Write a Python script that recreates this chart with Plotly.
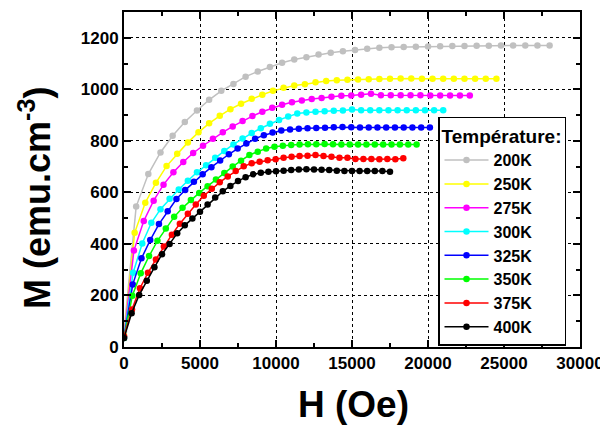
import plotly.graph_objects as go

# ---- data ----
temperatures = ["200K", "250K", "275K", "300K", "325K", "350K", "375K", "400K"]
colors = ["#c0c0c0", "#ffff00", "#ff00ff", "#00ffff", "#0000ff", "#00ff00", "#ff0000", "#000000"]
# field step (Oe) of each sweep; every sweep has 36 points starting at 0 Oe
field_step = [800, 700, 650, 600, 575, 550, 525, 500]

m_200K = [60, 545, 671, 755, 820, 873, 918, 959, 994, 1021, 1049, 1069, 1087, 1103, 1116, 1124,
          1135, 1142, 1148, 1153, 1157, 1161, 1163, 1164, 1165, 1166, 1167, 1168, 1168, 1169,
          1169, 1170, 1170, 1170, 1170, 1170]
m_250K = [45, 443, 560, 637, 702, 750, 794, 833, 868, 897, 923, 944, 963, 979, 994, 1006,
          1015, 1020, 1027, 1032, 1035, 1037, 1038, 1039, 1040, 1041, 1042, 1042, 1041, 1041,
          1041, 1041, 1041, 1041, 1041, 1041]
m_275K = [40, 374, 489, 568, 630, 678, 718, 753, 781, 808, 833, 856, 877, 896, 913, 928,
          940, 950, 957, 962, 966, 971, 975, 976, 979, 983, 977, 977, 977, 977,
          977, 976, 976, 976, 976, 976]
m_300K = [40, 288, 402, 482, 535, 575, 611, 645, 678, 705, 734, 761, 786, 809, 830, 849,
          866, 881, 894, 906, 910, 913, 915, 917, 918, 922, 919, 919, 919, 919,
          919, 919, 919, 919, 919, 919]
m_325K = [35, 243, 344, 415, 477, 527, 574, 609, 641, 670, 698, 724, 748, 770, 790, 808,
          822, 832, 840, 844, 847, 849, 850, 851, 853, 854, 853, 852, 852, 852,
          852, 852, 852, 852, 852, 852]
m_350K = [35, 199, 286, 353, 412, 460, 505, 540, 570, 598, 624, 650, 675, 700, 723, 745,
          758, 770, 777, 781, 784, 786, 787, 787, 788, 787, 786, 786, 786, 786,
          786, 786, 786, 786, 786, 786]
m_375K = [42, 146, 228, 288, 340, 390, 436, 478, 517, 553, 587, 614, 639, 662, 683, 701,
          713, 719, 725, 729, 734, 738, 741, 742, 745, 741, 738, 734, 734, 730,
          730, 730, 729, 730, 729, 732]
m_400K = [35, 131, 202, 257, 309, 360, 400, 441, 472, 499, 525, 553, 580, 604, 625, 644,
          659, 670, 676, 680, 682, 684, 687, 689, 690, 689, 688, 687, 684, 683,
          683, 683, 683, 683, 683, 680]

magnetization = [m_200K, m_250K, m_275K, m_300K, m_325K, m_350K, m_375K, m_400K]

x_ticks = [0, 5000, 10000, 15000, 20000, 25000, 30000]
y_ticks = [0, 200, 400, 600, 800, 1000, 1200]

FONT = "Liberation Sans, Arial, Helvetica, sans-serif"

fig = go.Figure()
for label, col, step, m in zip(temperatures, colors, field_step, magnetization):
    h = [step * i for i in range(len(m))]
    fig.add_trace(go.Scatter(
        x=h, y=m, mode="lines+markers", name=label,
        line=dict(color=col, width=1.5),
        marker=dict(color=col, size=6.5, symbol="circle"),
    ))

axis_common = dict(
    automargin=False,
    showline=True, linewidth=2, linecolor="black", mirror="allticks",
    ticks="inside", ticklen=7, tickwidth=1.5, tickcolor="black",
    showgrid=True, gridcolor="black", gridwidth=1, griddash="dot",
    zeroline=False,
    tickfont=dict(family=FONT, size=17, color="black", weight="bold"),
)

fig.update_xaxes(
    range=[0, 30000], tickmode="array", tickvals=x_ticks,
    ticktext=[str(v) for v in x_ticks],
    minor=dict(dtick=2500, tick0=0, ticks="inside", ticklen=4, tickwidth=1.5,
               tickcolor="black", showgrid=False),
    **axis_common,
)
fig.update_yaxes(
    range=[0, 1300], tickmode="array", tickvals=y_ticks,
    ticktext=[str(v) for v in y_ticks],
    minor=dict(dtick=100, tick0=0, ticks="inside", ticklen=4, tickwidth=1.5,
               tickcolor="black", showgrid=False),
    **axis_common,
)

# the page body has an 8px margin, so the figure is sized/positioned to compensate
fig.update_layout(
    template="none",
    width=600, height=420,
    margin=dict(l=116, r=28, t=4, b=81, autoexpand=False),
    paper_bgcolor="white", plot_bgcolor="white",
    font=dict(family=FONT, color="black"),
    showlegend=True,
    legend=dict(
        x=0.6886, y=0.6866, xanchor="left", yanchor="top",
        bgcolor="white", bordercolor="black", borderwidth=1.5,
        font=dict(family=FONT, size=16, color="black", weight="bold"),
        title=dict(text="Température:", font=dict(family=FONT, size=19, color="black", weight="bold")),
        tracegroupgap=0, itemwidth=44,
    ),
    annotations=[
        dict(text="H (Oe)", xref="paper", yref="paper", x=0.504, y=-0.173,
             xanchor="center", yanchor="middle", showarrow=False,
             font=dict(family=FONT, size=37, color="black", weight="bold")),
        dict(text="M (emu.cm<sup>-3</sup>)", xref="paper", yref="paper", x=-0.195, y=0.445,
             xanchor="center", yanchor="middle", textangle=-90, showarrow=False,
             font=dict(family=FONT, size=36, color="black", weight="bold")),
    ],
)

fig.write_html("out.html")
